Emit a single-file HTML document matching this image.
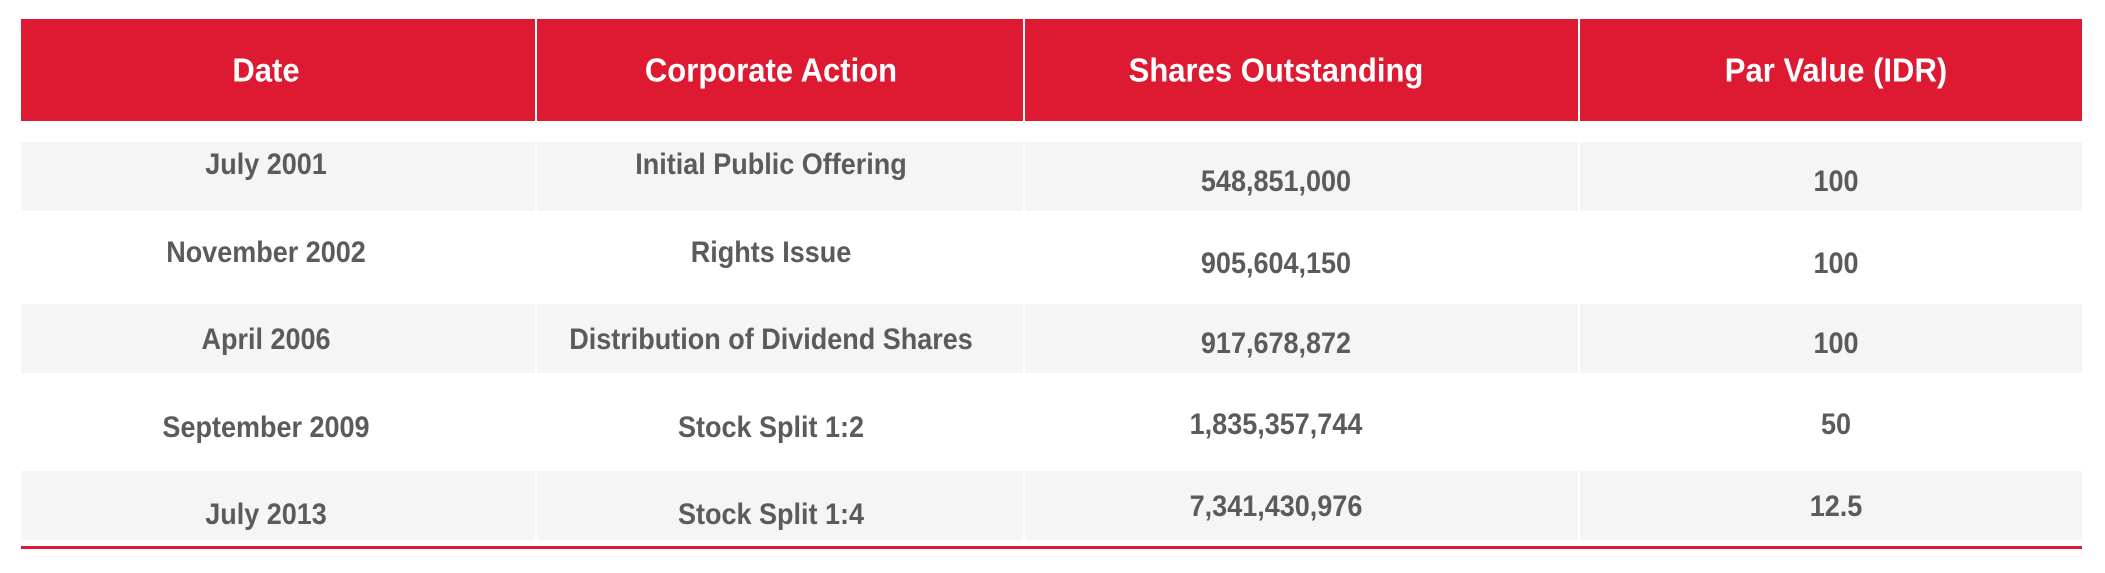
<!DOCTYPE html>
<html><head><meta charset="utf-8"><style>
html,body{margin:0;padding:0;background:#fff;}
body{width:2105px;height:573px;position:relative;overflow:hidden;font-family:"Liberation Sans",sans-serif;font-weight:bold;}
.b{position:absolute;}
.h{background:#dd1a31;}
.s{background:#f4f5f4;}
.t{position:absolute;white-space:nowrap;transform:translate(-50%,-50%) scaleX(0.9);line-height:1;}
.th{color:#fff;font-size:33px;transform:translate(-50%,-50%) scaleX(0.94);}
.td{color:#5a5b5d;font-size:30px;}
</style></head><body>
<div class="b h" style="left:21px;top:19px;width:514px;height:102px"></div>
<div class="b h" style="left:537px;top:19px;width:486px;height:102px"></div>
<div class="b h" style="left:1025px;top:19px;width:553px;height:102px"></div>
<div class="b h" style="left:1580px;top:19px;width:502px;height:102px"></div>

<div class="b s" style="left:21px;top:142px;width:514px;height:69px"></div>
<div class="b s" style="left:537px;top:142px;width:486px;height:69px"></div>
<div class="b s" style="left:1025px;top:142px;width:553px;height:69px"></div>
<div class="b s" style="left:1580px;top:142px;width:502px;height:69px"></div>

<div class="b s" style="left:21px;top:304px;width:514px;height:69px"></div>
<div class="b s" style="left:537px;top:304px;width:486px;height:69px"></div>
<div class="b s" style="left:1025px;top:304px;width:553px;height:69px"></div>
<div class="b s" style="left:1580px;top:304px;width:502px;height:69px"></div>

<div class="b s" style="left:21px;top:471px;width:514px;height:69px"></div>
<div class="b s" style="left:537px;top:471px;width:486px;height:69px"></div>
<div class="b s" style="left:1025px;top:471px;width:553px;height:69px"></div>
<div class="b s" style="left:1580px;top:471px;width:502px;height:69px"></div>

<div class="b" style="left:21px;top:546px;width:2061px;height:3px;background:#dd1a31"></div>

<div class="t th" style="left:266px;top:70px">Date</div>
<div class="t th" style="left:771px;top:70px">Corporate Action</div>
<div class="t th" style="left:1276px;top:70px">Shares Outstanding</div>
<div class="t th" style="left:1836px;top:70px">Par Value (IDR)</div>

<div class="t td" style="left:266px;top:165px">July 2001</div>
<div class="t td" style="left:771px;top:165px">Initial Public Offering</div>
<div class="t td" style="left:1276px;top:182px">548,851,000</div>
<div class="t td" style="left:1836px;top:182px">100</div>

<div class="t td" style="left:266px;top:253px">November 2002</div>
<div class="t td" style="left:771px;top:253px">Rights Issue</div>
<div class="t td" style="left:1276px;top:264px">905,604,150</div>
<div class="t td" style="left:1836px;top:264px">100</div>

<div class="t td" style="left:266px;top:340px">April 2006</div>
<div class="t td" style="left:771px;top:340px">Distribution of Dividend Shares</div>
<div class="t td" style="left:1276px;top:344px">917,678,872</div>
<div class="t td" style="left:1836px;top:344px">100</div>

<div class="t td" style="left:266px;top:428px">September 2009</div>
<div class="t td" style="left:771px;top:428px">Stock Split 1:2</div>
<div class="t td" style="left:1276px;top:425px">1,835,357,744</div>
<div class="t td" style="left:1836px;top:425px">50</div>

<div class="t td" style="left:266px;top:515px">July 2013</div>
<div class="t td" style="left:771px;top:515px">Stock Split 1:4</div>
<div class="t td" style="left:1276px;top:507px">7,341,430,976</div>
<div class="t td" style="left:1836px;top:507px">12.5</div>
</body></html>
